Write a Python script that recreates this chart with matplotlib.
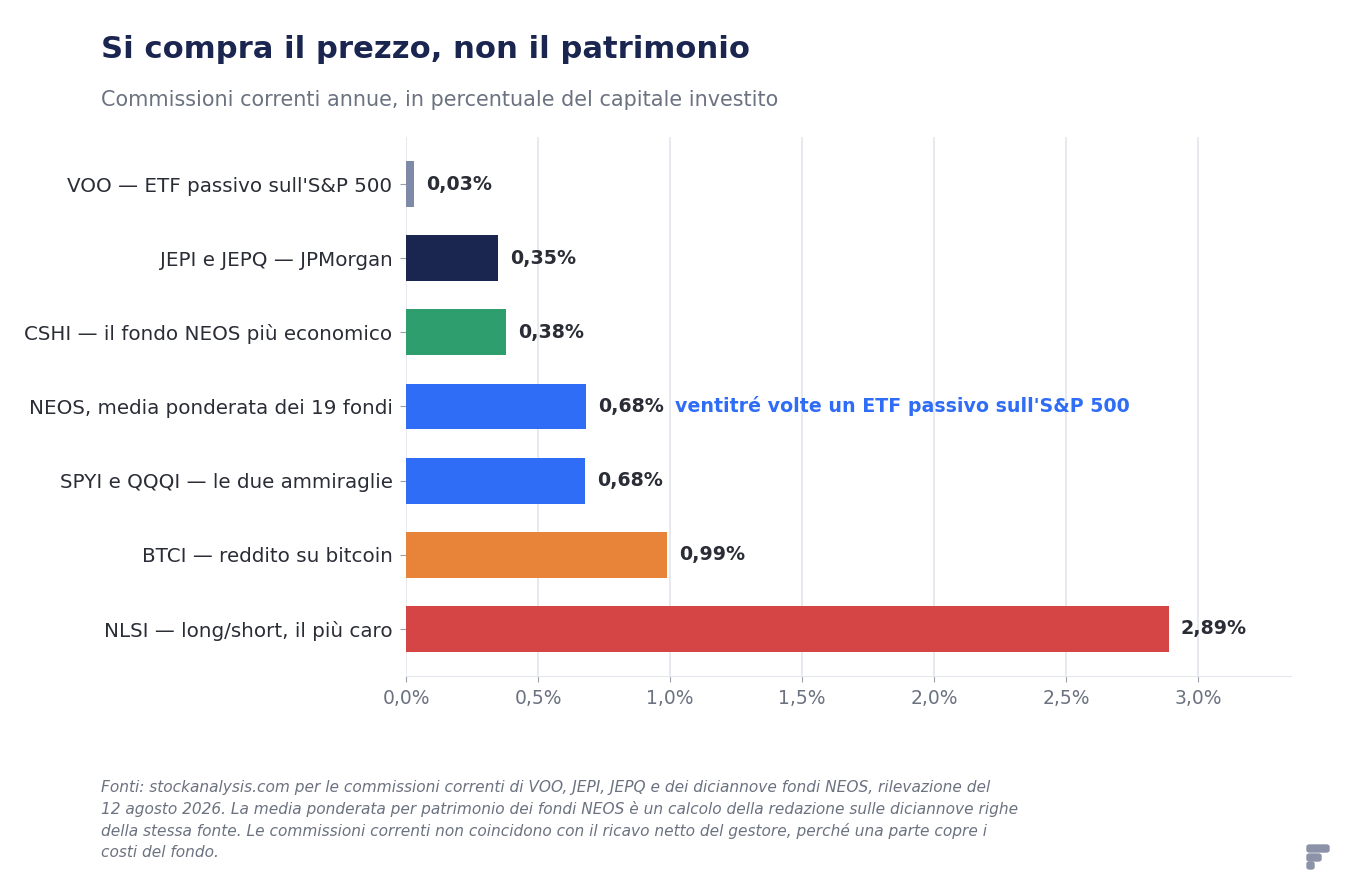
import matplotlib.pyplot as plt
from matplotlib.patches import FancyBboxPatch

# dati
labels = [
    "VOO — ETF passivo sull'S&P 500",
    "JEPI e JEPQ — JPMorgan",
    "CSHI — il fondo NEOS più economico",
    "NEOS, media ponderata dei 19 fondi",
    "SPYI e QQQI — le due ammiraglie",
    "BTCI — reddito su bitcoin",
    "NLSI — long/short, il più caro",
]
fees = [0.03, 0.35, 0.38, 0.682, 0.678, 0.99, 2.89]
colors = ["#7f8aa8", "#1a2550", "#2e9e6e", "#2f6df6", "#2f6df6", "#e8843a", "#d64545"]
xticks = [0, 0.5, 1.0, 1.5, 2.0, 2.5, 3.0]
note = "ventitré volte un ETF passivo sull'S&P 500"

title = "Si compra il prezzo, non il patrimonio"
subtitle = "Commissioni correnti annue, in percentuale del capitale investito"
source = ("Fonti: stockanalysis.com per le commissioni correnti di VOO, JEPI, JEPQ e dei diciannove fondi NEOS, rilevazione del\n"
          "12 agosto 2026. La media ponderata per patrimonio dei fondi NEOS è un calcolo della redazione sulle diciannove righe\n"
          "della stessa fonte. Le commissioni correnti non coincidono con il ricavo netto del gestore, perché una parte copre i\n"
          "costi del fondo.")

fig = plt.figure(figsize=(13.52, 8.84), dpi=100)
ax = fig.add_axes([406/1352, 1-676/884, (1291-406)/1352, (676-137)/884])

y = list(range(len(labels)))
ax.barh(y, fees, height=0.62, color=colors, zorder=3)
ax.set_ylim(len(labels) - 0.365, -0.635)
ax.set_xlim(0, 3.352)

for i, v in enumerate(fees):
    ax.text(v + 0.045, i, f"{v:.2f}".replace(".", ",") + "%", va="center", ha="left",
            fontsize=13.7, fontweight="bold", color="#2a2d36")
ax.text(fees[3] + 0.337, 3, note, va="center", ha="left",
        fontsize=13.7, fontweight="bold", color="#2f6df6")

ax.set_yticks(y)
ax.set_yticklabels(labels, fontsize=14.3, color="#2a2d36")
ax.set_xticks(xticks)
ax.set_xticklabels([f"{t:.1f}".replace(".", ",") + "%" for t in xticks], fontsize=13.5, color="#6b7280")
ax.tick_params(axis="both", color="#9aa0ad", length=4)
ax.tick_params(axis="y", pad=5.7)
ax.tick_params(axis="x", pad=5.5)
ax.grid(axis="x", color="#e5e7ee", linewidth=1.3, zorder=0)
for s in ["top", "right", "left"]:
    ax.spines[s].set_visible(False)
ax.spines["bottom"].set_color("#e5e7ee")

fig.text(101/1352, 1-49/884, title, fontsize=22.05, fontweight="bold", color="#1a2550", va="center")
fig.text(101/1352, 1-100/884, subtitle, fontsize=14.95, color="#6b7280", va="center")
fig.text(101/1352, 1-780/884, source, fontsize=11.05, style="italic", color="#6b7280",
         va="top", linespacing=1.48)

# piccolo logo in basso a destra
logo = "#8c93a8"
for (x0, y0, w) in [(1307, 845, 22), (1307, 854, 14), (1307, 862, 7)]:
    fig.patches.append(FancyBboxPatch((x0/1352, 1-(y0+7)/884), w/1352, 7/884,
                                      boxstyle="round,pad=0,rounding_size=0.002",
                                      transform=fig.transFigure, color=logo))

fig.savefig("out.png", dpi=100)
